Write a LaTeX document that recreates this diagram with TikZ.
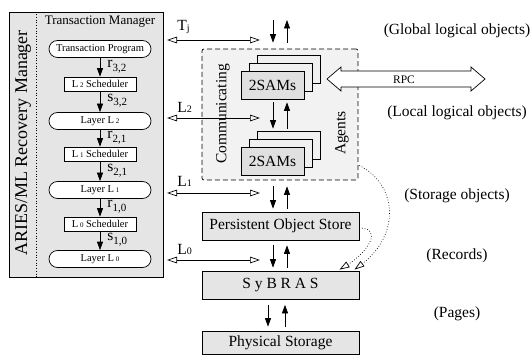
\documentclass[tikz,border=0pt]{standalone}
\usepackage{fontspec}
\setmainfont{Liberation Serif}
\usetikzlibrary{arrows.meta,calc}
\newcommand\myfs[1]{\fontsize{#1}{#1}\selectfont}
\begin{document}
\begin{tikzpicture}[x=1pt,y=-1pt, line width=0.7pt,
  lbl/.style={font=\myfs{15.5}, inner sep=0pt},
  stad/.style={draw, fill=white, rounded corners=8.5pt, minimum width=102pt, minimum height=17pt, inner sep=0pt, font=\myfs{10.5}},
  sched/.style={draw, fill=white, minimum width=72pt, minimum height=14pt, inner sep=0pt, font=\myfs{10.5}},
  gbox/.style={draw, fill=black!10, minimum width=157pt, minimum height=28pt, inner sep=0pt, font=\myfs{15.5}},
  sam/.style={draw, fill=black!12, minimum width=63pt, minimum height=28pt, inner sep=0pt, font=\myfs{15.5}},
  samback/.style={draw, fill=black!6, minimum width=63pt, minimum height=28pt, inner sep=0pt},
  varr/.style={-{Triangle[length=8.5pt,width=6pt]}},
  dbl/.style={{Triangle[open,length=10pt,width=6.5pt]}-{Triangle[open,length=10pt,width=6.5pt]}},
  dotarr/.style={dotted, -{Triangle[open,length=10pt,width=6.5pt]}},
]
\useasboundingbox (0,0) rectangle (532,355);

% ---------- left: ARIES/ML recovery manager ----------
\node[draw, fill=black!10, minimum width=154pt, minimum height=265pt, inner sep=0pt] (rm) at (86,144.5) {};
\draw[dotted] ($(rm.north west)+(28,0)$) -- ($(rm.south west)+(28,0)$);
\node[lbl, font=\myfs{18}, rotate=90] (rmt) at (23,143) {ARIES/ML Recovery Manager};
\node[lbl, font=\myfs{13}] (tmt) at (100,22) {Transaction Manager};

\node[stad] (tp) at (100,49) {Transaction Program};
\node[sched] (l2s) at (100,84) {L\,{\myfs{7}2} Scheduler};
\node[stad] (ll2) at (100,121) {Layer L\,{\myfs{7}2}};
\node[sched] (l1s) at (100,154) {L\,{\myfs{7}1} Scheduler};
\node[stad] (ll1) at (100,190) {Layer L\,{\myfs{7}1}};
\node[sched] (l0s) at (100,224) {L\,{\myfs{7}0} Scheduler};
\node[stad] (ll0) at (100,259) {Layer L\,{\myfs{7}0}};

\draw[varr] (tp) -- (l2s);
\draw[varr] (l2s) -- (ll2);
\draw[varr] (ll2) -- (l1s);
\draw[varr] (l1s) -- (ll1);
\draw[varr] (ll1) -- (l0s);
\draw[varr] (l0s) -- (ll0);

\node[lbl, anchor=west] (r32) at ($(tp.south)!0.5!(l2s.north)+(7,-1)$) {r\raisebox{-4pt}{\myfs{11}3,2}};
\node[lbl, anchor=west] (s32) at ($(l2s.south)!0.5!(ll2.north)+(7,-1)$) {s\raisebox{-4pt}{\myfs{11}3,2}};
\node[lbl, anchor=west] (r21) at ($(ll2.south)!0.5!(l1s.north)+(7,-1)$) {r\raisebox{-4pt}{\myfs{11}2,1}};
\node[lbl, anchor=west] (s21) at ($(l1s.south)!0.5!(ll1.north)+(7,-1)$) {s\raisebox{-4pt}{\myfs{11}2,1}};
\node[lbl, anchor=west] (r10) at ($(ll1.south)!0.5!(l0s.north)+(7,-1)$) {r\raisebox{-4pt}{\myfs{11}1,0}};
\node[lbl, anchor=west] (s10) at ($(l0s.south)!0.5!(ll0.north)+(7,-1)$) {s\raisebox{-4pt}{\myfs{11}1,0}};

% ---------- center: communicating agents ----------
\node[draw, dashed, dash pattern=on 5pt off 3pt, fill=black!5, rounded corners=2pt,
      minimum width=156pt, minimum height=131pt, inner sep=0pt] (ca) at (280,114.5) {};
\node[lbl, rotate=90] (comm) at (223,114) {Communicating};
\node[lbl, rotate=90] (agents) at (342,133) {Agents};

\node[samback] (sam1c) at (288.5,69) {};
\node[samback] (sam1b) at (280.5,77) {};
\node[sam] (sam1) at (272.5,85) {2SAMs};
\node[samback] (sam2c) at (288.5,145) {};
\node[samback] (sam2b) at (280.5,153) {};
\node[sam] (sam2) at (272.5,161) {2SAMs};

\node[gbox] (pos) at (280.5,226) {Persistent Object Store};
\node[gbox] (syb) at (280.5,285.5) {S y B R A S};
\node[gbox, minimum height=23.5pt] (phy) at (280.5,342.75) {\raisebox{-2pt}{Physical Storage}};

% vertical arrow pairs
\coordinate (tda) at (273,20);
\coordinate (tua) at (287,20);
\draw[varr] (tda) -- ($(ca.north)+(-7,-6)$);
\draw[varr] ($(ca.north)+(7,-6)$) -- (tua);
\draw[varr] ($(sam1.south)+(0.5,3)$) -- ($(sam2c.north)+(-15.5,-2)$);
\draw[varr] ($(sam2c.north)+(-1.5,-2)$) -- ($(sam1.south)+(14.5,3)$);
\draw[varr] ($(ca.south)+(-7,6)$) -- ($(pos.north)+(-7.5,-3)$);
\draw[varr] ($(pos.north)+(6.5,-3)$) -- ($(ca.south)+(7,6)$);
\draw[varr] ($(pos.south)+(-7.5,5)$) -- ($(syb.north)+(-7.5,-3.5)$);
\draw[varr] ($(syb.north)+(6.5,-3.5)$) -- ($(pos.south)+(6.5,5)$);
\draw[varr] ($(syb.south)+(-12.5,5)$) -- ($(phy.north)+(-12.5,-4)$);
\draw[varr] ($(phy.north)+(4.5,-4)$) -- ($(syb.south)+(4.5,5)$);

% horizontal double arrows from the recovery manager
\coordinate (tjl) at (167,40);  \coordinate (tjr) at (260,40);
\coordinate (l2l) at (167,118); \coordinate (l2r) at (260,118);
\coordinate (l1l) at (167,193); \coordinate (l1r) at (260,193);
\coordinate (l0l) at (167,260); \coordinate (l0r) at (260,260);
\draw[dbl] (tjl) -- (tjr);
\draw[dbl] (l2l) -- (l2r);
\draw[dbl] (l1l) -- (l1r);
\draw[dbl] (l0l) -- (l0r);
\node[lbl, anchor=west] (tjt) at (177,27) {T\raisebox{-1pt}{\myfs{10}j}};
\node[lbl, anchor=west] (l2t) at (177,107) {L\raisebox{0pt}{\myfs{10}2}};
\node[lbl, anchor=west] (l1t) at (177,181) {L\raisebox{0pt}{\myfs{10}1}};
\node[lbl, anchor=west] (l0t) at (177,249) {L\raisebox{0pt}{\myfs{10}0}};

% RPC double arrow
\draw[fill=white] (327,79) -- (341,67) -- (341,71) -- (471,71) -- (471,67) -- (485,79)
  -- (471,91) -- (471,87) -- (341,87) -- (341,91) -- cycle;
\node[lbl, font=\myfs{11.5}] (rpc) at (404,80) {RPC};

% dotted arrows
\draw[dotarr] ($(ca.east)+(1,51)$) .. controls (398,185) and (400,235) .. ($(syb.north)+(74,-1.5)$);
\draw[dotarr] ($(pos.east)+(0,2)$) .. controls (383,228) and (368,252) .. ($(syb.north)+(59,-1.5)$);

% right-hand labels
\node[lbl] (g1) at (457,31) {(Global logical objects)};
\node[lbl] (g2) at (457,113) {(Local logical objects)};
\node[lbl] (g3) at (457,196) {(Storage objects)};
\node[lbl] (g4) at (457,256) {(Records)};
\node[lbl] (g5) at (457,314) {(Pages)};
\end{tikzpicture}
\end{document}
